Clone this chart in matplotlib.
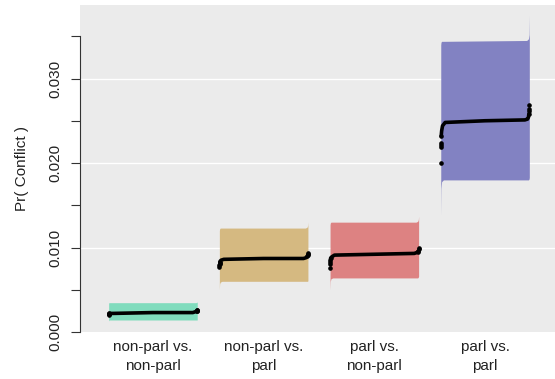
import numpy as np
import matplotlib.pyplot as plt

plt.rcParams['font.family'] = ['Liberation Sans', 'DejaVu Sans']

# dyad types
groups = ["non-parl vs.\nnon-parl", "non-parl vs.\nparl", "parl vs.\nnon-parl", "parl vs.\nparl"]
colors = ["#80dcbd", "#d5b981", "#dd8282", "#8282c2"]

# sorted simulated estimates, read at these ranks (0 = lowest sim, 1 = highest)
est_rank = [0.0, 0.001, 0.002, 0.003, 0.005, 0.01, 0.02, 0.05, 0.5, 0.95, 0.98, 0.99, 0.995, 0.997, 0.999, 1.0]
est_np_np = [0.0020, 0.0021, 0.0021, 0.0021, 0.0022, 0.0022, 0.0022, 0.0022, 0.0023, 0.0023, 0.0024, 0.0024, 0.0025, 0.0025, 0.0026, 0.0026]
est_np_p = [0.0077, 0.0079, 0.0081, 0.0082, 0.0083, 0.0084, 0.0085, 0.0086, 0.0087, 0.0087, 0.0088, 0.0089, 0.0090, 0.0091, 0.0092, 0.0093]
est_p_np = [0.0076, 0.0080, 0.0083, 0.0085, 0.0087, 0.0088, 0.0089, 0.0091, 0.0092, 0.0093, 0.0094, 0.0095, 0.0095, 0.0096, 0.0098, 0.0099]
est_p_p = [0.0200, 0.0219, 0.0221, 0.0224, 0.0232, 0.0238, 0.0244, 0.0248, 0.0250, 0.0251, 0.0252, 0.0254, 0.0258, 0.0261, 0.0264, 0.0269]

# 95% interval of each sim, read at these ranks
ci_rank = [0.0, 0.003, 0.01, 0.03, 0.97, 0.99, 0.997, 1.0]
lo_np_np = [0.00130, 0.00138, 0.00142, 0.00142, 0.00142, 0.00142, 0.00142, 0.00143]
hi_np_np = [0.00344, 0.00346, 0.00347, 0.00347, 0.00347, 0.00348, 0.00352, 0.00360]
lo_np_p = [0.0050, 0.0057, 0.0059, 0.0060, 0.0060, 0.0060, 0.0060, 0.0061]
hi_np_p = [0.0120, 0.0122, 0.0123, 0.0123, 0.0123, 0.0124, 0.0126, 0.0130]
lo_p_np = [0.0050, 0.0060, 0.0063, 0.0064, 0.0064, 0.0064, 0.0065, 0.0066]
hi_p_np = [0.0127, 0.0129, 0.0130, 0.0130, 0.0130, 0.0131, 0.0133, 0.0137]
lo_p_p = [0.0138, 0.0170, 0.0178, 0.0180, 0.0180, 0.0180, 0.0181, 0.0183]
hi_p_p = [0.0340, 0.0343, 0.0344, 0.0344, 0.0345, 0.0347, 0.0352, 0.0375]

estimates = [est_np_np, est_np_p, est_p_np, est_p_p]
lowers = [lo_np_np, lo_np_p, lo_p_np, lo_p_p]
uppers = [hi_np_np, hi_np_p, hi_p_np, hi_p_p]

fig = plt.figure(figsize=(5.55, 3.79), dpi=100)
ax = fig.add_axes([80/555, 1-332/379, 475/555, 327/379])
ax.set_facecolor("#ebebeb")

width = 0.8
for i in range(len(groups)):
    left = i + 1 - width/2
    xc = left + width*np.array(ci_rank)
    ax.fill_between(xc, lowers[i], uppers[i], color=colors[i], lw=0, zorder=2)
    xe = left + width*np.array(est_rank)
    ye = np.array(estimates[i])
    # dense middle as a line, sparse tails as single dots
    ax.plot(xe[4:-3], ye[4:-3], color="black", lw=2.6, solid_capstyle="round", zorder=3)
    tails = np.r_[0:5, len(ye)-4:len(ye)]
    ax.plot(xe[tails], ye[tails], "o", color="black", ms=2.3, zorder=3)

ax.set_xlim(0.341, 4.632)
ax.set_ylim(0.0, 0.0387)

for y in [0.01, 0.02, 0.03]:
    ax.axhline(y, color="white", lw=1.0, zorder=1)

for s in ["top", "right", "bottom"]:
    ax.spines[s].set_visible(False)
ax.spines["left"].set_bounds(0.0, 0.035)
ax.spines["left"].set_color("#333333")
ax.spines["left"].set_linewidth(0.8)

yt = np.arange(0, 0.0351, 0.005)
ax.set_yticks(yt)
ax.set_yticklabels(["%.3f" % v if round(v*1000) % 10 == 0 else "" for v in yt],
                   rotation=90, va="center", fontsize=11, color="#222222")
ax.tick_params(axis="y", length=6.5, width=0.8, color="#333333", pad=6)

ax.set_xticks(range(1, 5))
ax.set_xticklabels(groups, fontsize=11, linespacing=1.4, color="#222222")
ax.tick_params(axis="x", length=0, pad=6)

ax.set_ylabel("Pr( Conflict )", fontsize=11, labelpad=14, color="#222222")

fig.savefig("out.png", dpi=100)
